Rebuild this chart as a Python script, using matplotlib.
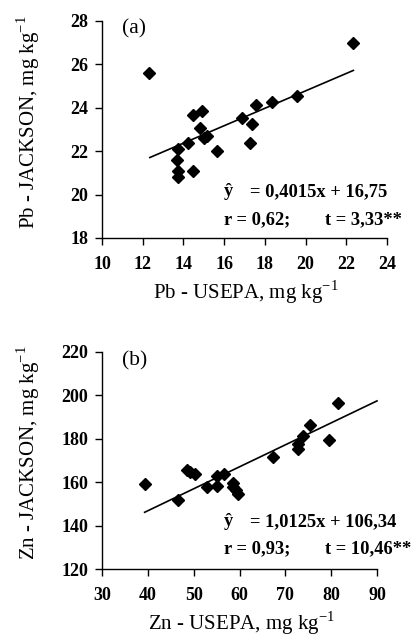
import matplotlib
matplotlib.use("Agg")
import matplotlib.pyplot as plt
import numpy as np

plt.rcParams['font.family'] = ['Liberation Serif', 'DejaVu Serif']
plt.rcParams['mathtext.fontset'] = 'custom'
plt.rcParams['mathtext.rm'] = 'Liberation Serif'

# Panel (a): Pb
pb_usepa = [12.3, 22.35, 13.75, 13.7, 13.75, 13.75, 14.45, 14.2, 14.45, 14.9,
            14.8, 15.0, 15.15, 15.65, 16.9, 17.35, 17.25, 17.55, 18.35, 19.6]
pb_jackson = [25.6, 27.0, 22.1, 21.6, 21.1, 20.8, 21.1, 22.4, 23.65, 23.85,
              23.05, 22.6, 22.7, 22.0, 23.55, 23.25, 22.4, 24.15, 24.25, 24.55]
pb_slope, pb_intercept = 0.4015, 16.75
pb_fit_x = [12.35, 22.35]
pb_xticks = [10, 12, 14, 16, 18, 20, 22, 24]
pb_yticks = [18, 20, 22, 24, 26, 28]

# Panel (b): Zn
zn_usepa = [39.3, 46.6, 48.5, 49.3, 50.3, 53.0, 55.0, 55.0, 56.6, 58.5,
            58.6, 59.2, 59.7, 67.2, 72.7, 72.7, 73.8, 75.3, 79.6, 81.6]
zn_jackson = [159.0, 151.8, 165.6, 164.9, 163.8, 157.6, 158.4, 162.9, 163.8, 159.8,
              158.0, 156.4, 154.6, 171.8, 177.6, 175.3, 181.4, 186.4, 179.4, 196.3]
zn_slope, zn_intercept = 1.0125, 106.34
zn_fit_x = [39.3, 90.0]
zn_xticks = [30, 40, 50, 60, 70, 80, 90]
zn_yticks = [120, 140, 160, 180, 200, 220]

W, H = 416, 637
fig = plt.figure(figsize=(W / 100, H / 100), dpi=100)

def px_axes(l, r, t, b):
    return fig.add_axes([l / W, 1 - b / H, (r - l) / W, (b - t) / H])

def style(ax, xt, yt):
    ax.set_xlim(xt[0], xt[-1])
    ax.set_ylim(yt[0], yt[-1])
    ax.set_xticks(xt, labels=[str(v) for v in xt], fontweight='bold', fontsize=13)
    ax.set_yticks(yt, labels=[str(v) for v in yt], fontweight='bold', fontsize=13)
    for s in ['top', 'right']:
        ax.spines[s].set_visible(False)
    for s in ['left', 'bottom']:
        ax.spines[s].set_linewidth(1.0)
    ax.tick_params(direction='out', length=5, width=1.0)
    ax.tick_params(axis='x', pad=8)
    ax.tick_params(axis='y', pad=5)

def panel(ax, x, y, slope, intercept, fit_x):
    ax.plot(x, y, linestyle='none', marker='D', markersize=6.2, color='black', clip_on=False, zorder=3)
    fx = np.array(fit_x)
    ax.plot(fx, slope * fx + intercept, color='black', linewidth=1.2, clip_on=False)

ax1 = px_axes(102, 387, 21, 238)
panel(ax1, pb_usepa, pb_jackson, pb_slope, pb_intercept, pb_fit_x)
style(ax1, pb_xticks, pb_yticks)

ax2 = px_axes(102, 377, 352, 569)
panel(ax2, zn_usepa, zn_jackson, zn_slope, zn_intercept, zn_fit_x)
style(ax2, zn_xticks, zn_yticks)

def ftext(x, y, s, **kw):
    fig.text(x / W, 1 - y / H, s, **kw)

eq_kw = dict(fontsize=13.3, fontweight='bold', va='baseline', ha='left')
# panel a equations
ftext(224, 196, 'ŷ', **eq_kw)
ftext(250, 196, '= 0,4015x + 16,75', **eq_kw)
ftext(224, 224, 'r = 0,62;', **eq_kw)
ftext(325, 224, 't = 3,33**', **eq_kw)
# panel b equations
ftext(224, 526, 'ŷ', **eq_kw)
ftext(250, 526, '= 1,0125x + 106,34', **eq_kw)
ftext(224, 553, 'r = 0,93;', **eq_kw)
ftext(325, 553, 't = 10,46**', **eq_kw)

# panel labels
ftext(122, 29, '(a)', fontsize=15.5, va='center', ha='left')
ftext(122, 361, '(b)', fontsize=15.5, va='center', ha='left')

xlab_kw = dict(fontsize=15, va='center', ha='center')
ftext(246, 292, r'Pb - USEPA, mg kg$^{\mathregular{-1}}$', **xlab_kw)
ftext(241, 623, r'Zn - USEPA, mg kg$^{\mathregular{-1}}$', **xlab_kw)
ylab_kw = dict(fontsize=15, va='center', ha='center', rotation=90)
ftext(28, 122, r'Pb - JACKSON, mg kg$^{\mathregular{-1}}$', **ylab_kw)
ftext(28, 453, r'Zn - JACKSON, mg kg$^{\mathregular{-1}}$', **ylab_kw)

fig.savefig('out.png', dpi=100)
